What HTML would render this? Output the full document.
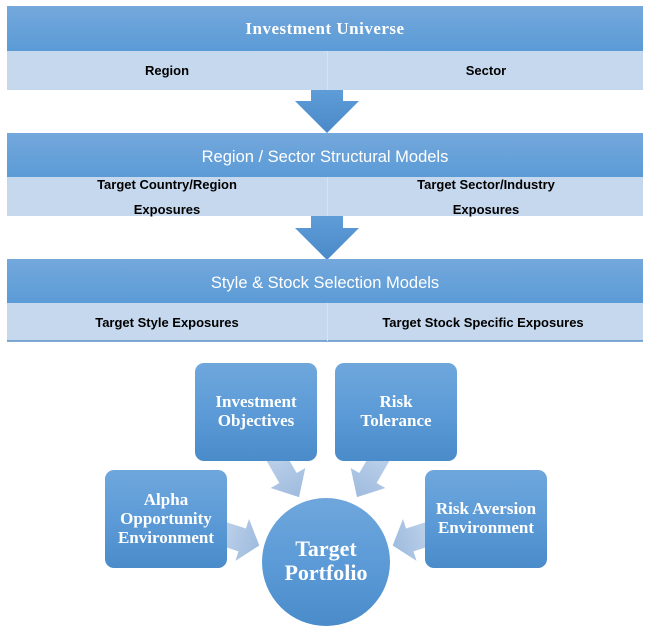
<!DOCTYPE html>
<html><head><meta charset="utf-8"><style>
html,body{margin:0;padding:0;background:#fff;}
svg{display:block;}
</style></head><body>
<svg width="649" height="640" viewBox="0 0 649 640" xmlns="http://www.w3.org/2000/svg">
<defs>
<linearGradient id="hd" x1="0" y1="0" x2="0" y2="1"><stop offset="0" stop-color="#74a8dc"/><stop offset="1" stop-color="#5b9bd6"/></linearGradient>
<linearGradient id="bx" x1="0" y1="0" x2="0" y2="1"><stop offset="0" stop-color="#6fa7dc"/><stop offset="0.5" stop-color="#5c9bd7"/><stop offset="1" stop-color="#4a8bca"/></linearGradient>
<linearGradient id="ar" x1="0" y1="0" x2="0" y2="1"><stop offset="0" stop-color="#5f9dd8"/><stop offset="1" stop-color="#4a89c8"/></linearGradient>
<linearGradient id="la" x1="0" y1="0" x2="1" y2="0"><stop offset="0" stop-color="#bcd1ea"/><stop offset="1" stop-color="#9fbbde"/></linearGradient>
</defs>
<rect x="7" y="6" width="636" height="45" fill="url(#hd)"/>
<rect x="7" y="51" width="636" height="39" fill="#c6d8ee"/>
<line x1="327.5" y1="51" x2="327.5" y2="90" stroke="#d6e3f3"/>
<text x="325" y="34" text-anchor="middle" font-family="Liberation Serif, serif" font-weight="bold" font-size="17" letter-spacing="0.5" fill="#fff">Investment Universe</text>
<text x="167" y="75" text-anchor="middle" font-family="Liberation Sans, sans-serif" font-weight="bold" font-size="13" fill="#000">Region</text>
<text x="486" y="75" text-anchor="middle" font-family="Liberation Sans, sans-serif" font-weight="bold" font-size="13" fill="#000">Sector</text>
<polygon points="311,90 343,90 343,101 359,101 327,133 295,101 311,101" fill="url(#ar)"/>
<rect x="7" y="133" width="636" height="44" fill="url(#hd)"/>
<rect x="7" y="177" width="636" height="39" fill="#c6d8ee"/>
<line x1="327.5" y1="177" x2="327.5" y2="216" stroke="#d6e3f3"/>
<text x="325" y="162" text-anchor="middle" font-family="Liberation Sans, sans-serif" font-size="16.5" fill="#fff">Region / Sector Structural Models</text>
<text x="167" y="189" text-anchor="middle" font-family="Liberation Sans, sans-serif" font-weight="bold" font-size="13" fill="#000">Target Country/Region</text>
<text x="167" y="214" text-anchor="middle" font-family="Liberation Sans, sans-serif" font-weight="bold" font-size="13" fill="#000">Exposures</text>
<text x="486" y="189" text-anchor="middle" font-family="Liberation Sans, sans-serif" font-weight="bold" font-size="13" fill="#000">Target Sector/Industry</text>
<text x="486" y="214" text-anchor="middle" font-family="Liberation Sans, sans-serif" font-weight="bold" font-size="13" fill="#000">Exposures</text>
<polygon points="311,216 343,216 343,228 359,228 327,260 295,228 311,228" fill="url(#ar)"/>
<rect x="7" y="259" width="636" height="44" fill="url(#hd)"/>
<rect x="7" y="303" width="636" height="38" fill="#c6d8ee"/>
<line x1="7" y1="341" x2="643" y2="341" stroke="#5b8fc6" stroke-width="1.5"/>
<line x1="327.5" y1="303" x2="327.5" y2="341" stroke="#d6e3f3"/>
<text x="325" y="288" text-anchor="middle" font-family="Liberation Sans, sans-serif" font-size="16.5" fill="#fff">Style &amp; Stock Selection Models</text>
<text x="167" y="327" text-anchor="middle" font-family="Liberation Sans, sans-serif" font-weight="bold" font-size="13" fill="#000">Target Style Exposures</text>
<text x="483" y="327" text-anchor="middle" font-family="Liberation Sans, sans-serif" font-weight="bold" font-size="13" fill="#000">Target Stock Specific Exposures</text>
<g fill="url(#la)">
<polygon points="-6,-10 22,-10 22,-20 44,0 22,20 22,10 -6,10" transform="translate(277,459) rotate(60)"/>
<polygon points="-6,-10 22,-10 22,-20 44,0 22,20 22,10 -6,10" transform="translate(379,459) rotate(120)"/>
<polygon points="-6,-12 16,-12 16,-22 34,0 16,22 16,12 -6,12" transform="translate(227,535) rotate(18)"/>
<polygon points="-6,-12 16,-12 16,-22 34,0 16,22 16,12 -6,12" transform="translate(425,535) rotate(162)"/>
</g>
<rect x="195" y="363" width="122" height="98" rx="9" fill="url(#bx)"/>
<rect x="335" y="363" width="122" height="98" rx="9" fill="url(#bx)"/>
<rect x="105" y="470" width="122" height="98" rx="9" fill="url(#bx)"/>
<rect x="425" y="470" width="122" height="98" rx="9" fill="url(#bx)"/>
<circle cx="326" cy="562" r="64" fill="url(#bx)"/>
<g font-family="Liberation Serif, serif" font-weight="bold" font-size="17" fill="#fff" text-anchor="middle">
<text x="256" y="407">Investment</text>
<text x="256" y="426">Objectives</text>
<text x="396" y="407">Risk</text>
<text x="396" y="426">Tolerance</text>
<text x="166" y="505">Alpha</text>
<text x="166" y="524">Opportunity</text>
<text x="166" y="543">Environment</text>
<text x="486" y="514">Risk Aversion</text>
<text x="486" y="533">Environment</text>
<text x="326" y="556" font-size="22">Target</text>
<text x="326" y="580" font-size="22">Portfolio</text>
</g>
</svg>
</body></html>
